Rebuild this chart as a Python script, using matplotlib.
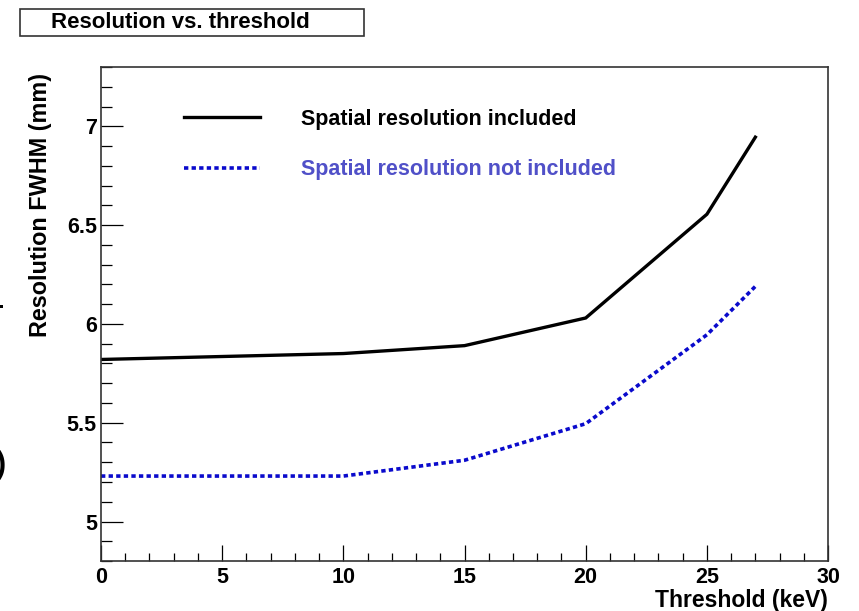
import matplotlib
matplotlib.use("Agg")
import matplotlib.pyplot as plt
from matplotlib.patches import Rectangle
from matplotlib.ticker import MultipleLocator

plt.rcParams['font.family'] = ['Liberation Sans', 'DejaVu Sans']
plt.rcParams['font.weight'] = 'bold'

# data
threshold = [0, 10, 15, 20, 25, 27]
res_with_spatial = [5.82, 5.85, 5.89, 6.03, 6.555, 6.945]
res_without_spatial = [5.23, 5.23, 5.31, 5.495, 5.945, 6.19]
labels = ['Spatial resolution included', 'Spatial resolution not included']

fig = plt.figure(figsize=(8.59, 6.11), dpi=100)
ax = fig.add_axes([0.1176, 0.0818, 0.8464, 0.8085])

l1, = ax.plot(threshold, res_with_spatial, color='black', lw=2.4,
              solid_joinstyle='miter', label=labels[0])
l2, = ax.plot(threshold, res_without_spatial, color='#0a0acc', lw=2.6,
              linestyle=(0, (1.2, 0.9)), label=labels[1])

ax.set_xlim(0, 30)
ax.set_ylim(4.8, 7.3)
ax.xaxis.set_major_locator(MultipleLocator(5))
ax.xaxis.set_minor_locator(MultipleLocator(1))
ax.yaxis.set_minor_locator(MultipleLocator(0.1))
ax.set_yticks([5, 5.5, 6, 6.5, 7])
ax.set_yticklabels(['5', '5.5', '6', '6.5', '7'])

ax.tick_params(axis='x', which='major', direction='in', length=11.5, width=0.9,
               labelsize=15.5, pad=4, top=False)
ax.tick_params(axis='x', which='minor', direction='in', length=5.8, width=0.9, top=False)
ax.tick_params(axis='y', which='major', direction='in', length=15.8, width=0.9,
               labelsize=15.5, pad=3, right=False)
ax.tick_params(axis='y', which='minor', direction='in', length=8, width=0.9, right=False)
for lab in ax.get_xticklabels() + ax.get_yticklabels():
    lab.set_fontweight('bold')

for s in ax.spines.values():
    s.set_color('#333333')
    s.set_linewidth(1.2)

ax.set_xlabel('Threshold (keV)', fontsize=16.5, fontweight='bold')
ax.xaxis.set_label_coords(1.0, -0.103)
ax.xaxis.label.set_ha('right')
ax.xaxis.label.set_va('bottom')
ax.set_ylabel('Resolution FWHM (mm)', fontsize=16.8, fontweight='bold')
ax.yaxis.set_label_coords(-0.0674, 0.988)
ax.yaxis.label.set_ha('right')

leg = ax.legend(handles=[l1, l2], loc='upper left', bbox_to_anchor=(0.088, 0.955),
                frameon=False, handlelength=3.5, handletextpad=1.9,
                labelspacing=1.38, prop={'weight': 'bold', 'size': 15.5})
leg.get_texts()[0].set_color('black')
leg.get_texts()[1].set_color('#5050c8')

# title box, ROOT style
fig.patches.append(Rectangle((20 / 859, 1 - 36 / 611), 344 / 859, 27 / 611,
                             transform=fig.transFigure, facecolor='white',
                             edgecolor='#333333', lw=1.2))
fig.text(180 / 859, 1 - 22.5 / 611, 'Resolution vs. threshold', ha='center', va='center',
         fontsize=16, fontweight='bold')

# clipped remnants at left edge of the scan
fig.text(0.007, 1 - 465 / 611, ')', ha='right', va='center', fontsize=22)
fig.patches.append(Rectangle((0, 1 - 308 / 611), 3 / 859, 3 / 611,
                             transform=fig.transFigure, facecolor='black', lw=0))

fig.savefig('out.png', dpi=100)
